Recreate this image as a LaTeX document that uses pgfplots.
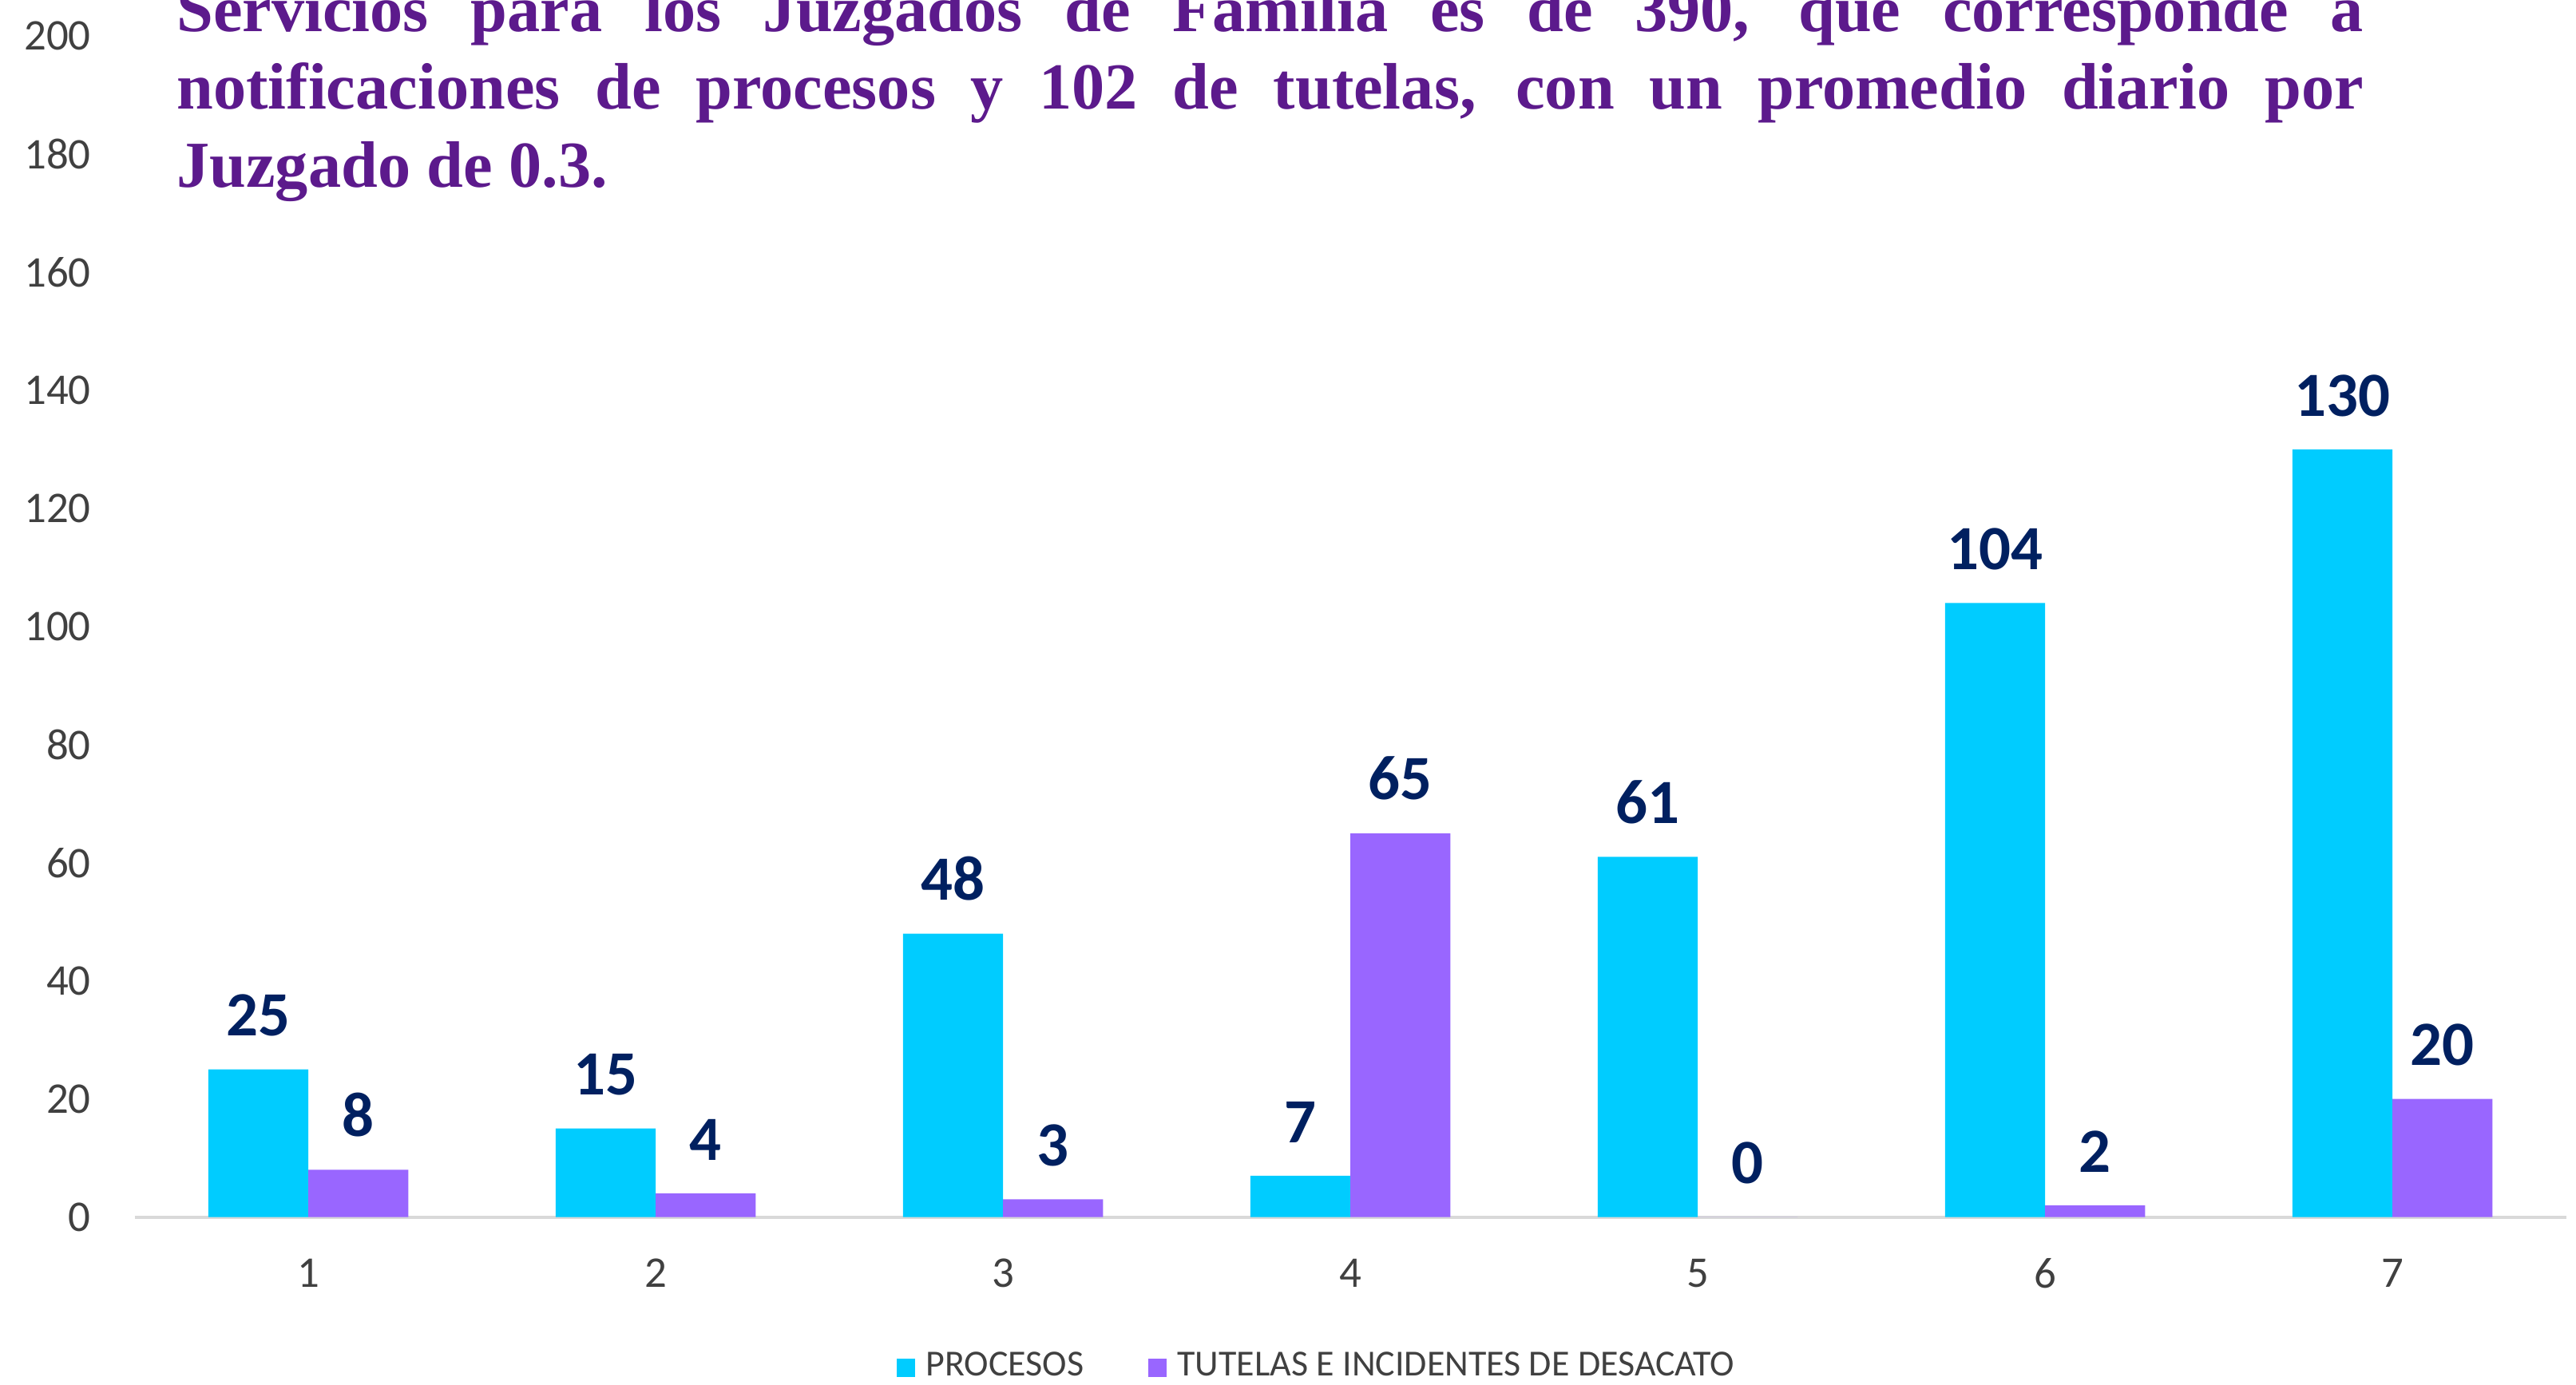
\documentclass[border=0pt]{standalone}
\usepackage{fontspec}
\setmainfont{Carlito}
\newfontfamily\titlefont{Liberation Serif}
\usepackage{pgfplots}
\pgfplotsset{compat=1.18}
\definecolor{procesos}{HTML}{00CCFF}
\definecolor{tutelas}{HTML}{9966FF}
\definecolor{lblblue}{HTML}{002060}
\definecolor{titlepurple}{HTML}{5C1A8C}
\definecolor{ticktext}{HTML}{404040}
\definecolor{baseline}{HTML}{D9D9D9}

\begin{document}
\begin{tikzpicture}
\useasboundingbox (0,0) rectangle (470.4pt,252.9pt);
\clip (0,0) rectangle (470.4pt,252.9pt);
\begin{axis}[
  at={(24.6pt,30.6pt)}, anchor=south west,
  scale only axis, width=444pt, height=215.7pt,
  ybar=0pt, bar width=0.288,
  xmin=0.5, xmax=7.5, ymin=0, ymax=200,
  xtick={1,...,7}, ytick={0,20,...,200},
  axis lines*=left,
  y axis line style={draw=none},
  x axis line style={draw=baseline, line width=0.6pt},
  major tick length=0pt,
  /pgf/number format/assume math mode=true,
  tick label style={font=\fontsize{8}{9.6}\selectfont, text=ticktext},
  yticklabel style={xshift=-4.5pt},
  xticklabel style={yshift=-4.1pt},
  nodes near coords,
  every node near coord/.append style={font=\fontsize{11.5}{13}\selectfont\bfseries, text=lblblue, yshift=2.5pt},
  legend style={at={(0.488,-0.128)}, anchor=center, draw=none, fill=none,
    legend columns=2, font=\fontsize{6.7}{8}\selectfont, text=ticktext,
    /tikz/every even column/.append style={column sep=9.8pt}},
  legend image code/.code={\fill[#1] (0pt,-1.6pt) rectangle (3.3pt,1.7pt);},
]
\addplot[fill=procesos, draw=none] coordinates {
  (1,25) (2,15) (3,48) (4,7) (5,61) (6,104) (7,130)};
\addplot[fill=tutelas, draw=none] coordinates {
  (1,8) (2,4) (3,3) (4,65) (5,0) (6,2) (7,20)};
\legend{PROCESOS, TUTELAS E INCIDENTES DE DESACATO}
\end{axis}
% title text box, its first line is cut by the top edge as in the source
\begin{scope}[every node/.style={anchor=base west, inner sep=0pt, text=titlepurple,
    font=\titlefont\fontsize{12}{14}\selectfont\bfseries}]
\node at (32.1pt,247.2pt) {\makebox[399.3pt][s]{Servicios para los Juzgados de Familia es de 390, que corresponde a}};
\node at (32.1pt,232.95pt) {\makebox[399.3pt][s]{notificaciones de procesos y 102 de tutelas, con un promedio diario por}};
\node at (32.1pt,218.7pt) {Juzgado de 0.3.};
\end{scope}
\end{tikzpicture}
\end{document}
